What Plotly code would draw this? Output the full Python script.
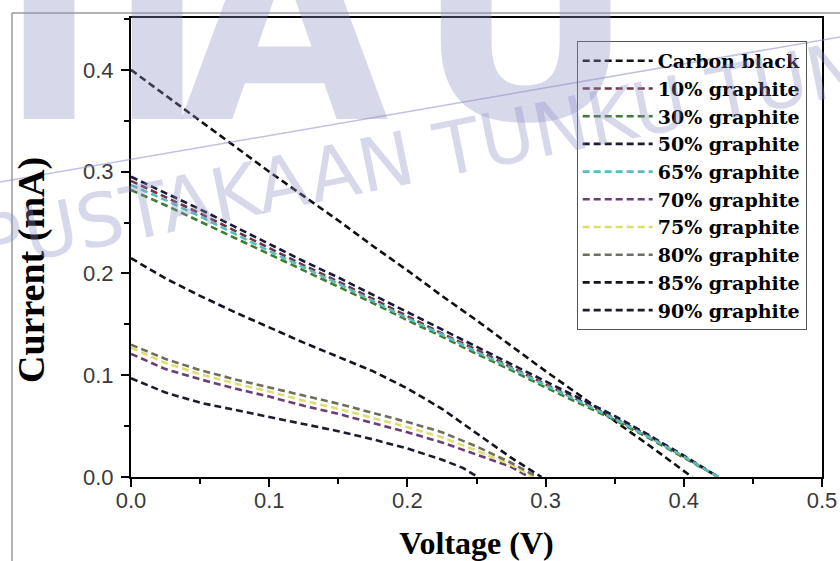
import plotly.graph_objects as go

# ---------------- data ----------------
names = ["Carbon black", "10% graphite", "30% graphite", "50% graphite", "65% graphite",
         "70% graphite", "75% graphite", "80% graphite", "85% graphite", "90% graphite"]

v_cb = [0, 0.025, 0.05, 0.075, 0.1, 0.125, 0.15, 0.175, 0.2, 0.225, 0.25, 0.275, 0.3, 0.325, 0.35, 0.375, 0.395, 0.406]
i_cb = [0.400, 0.375, 0.350, 0.325, 0.300, 0.276, 0.252, 0.227, 0.203, 0.178, 0.154, 0.129, 0.104, 0.080, 0.055, 0.031, 0.011, 0.0]

v_cl = [0, 0.025, 0.05, 0.075, 0.1, 0.125, 0.15, 0.175, 0.2, 0.225, 0.25, 0.275, 0.3, 0.325, 0.35, 0.375, 0.4, 0.425]
i_10 = [0.291, 0.275, 0.259, 0.242, 0.225, 0.208, 0.192, 0.175, 0.158, 0.141, 0.125, 0.108, 0.091, 0.075, 0.058, 0.040, 0.020, 0.0]
i_30 = [0.282, 0.267, 0.251, 0.235, 0.219, 0.203, 0.187, 0.171, 0.154, 0.138, 0.121, 0.105, 0.088, 0.072, 0.056, 0.038, 0.019, 0.0]
i_50 = [0.295, 0.279, 0.263, 0.246, 0.229, 0.212, 0.196, 0.179, 0.162, 0.145, 0.128, 0.111, 0.094, 0.077, 0.060, 0.041, 0.021, 0.0]
i_65 = [0.287, 0.272, 0.256, 0.239, 0.222, 0.206, 0.190, 0.173, 0.156, 0.140, 0.123, 0.107, 0.090, 0.074, 0.057, 0.039, 0.020, 0.0]

v_70 = [0, 0.025, 0.05, 0.075, 0.1, 0.125, 0.15, 0.175, 0.2, 0.225, 0.25, 0.275, 0.288]
i_70 = [0.121, 0.106, 0.096, 0.087, 0.079, 0.070, 0.062, 0.053, 0.044, 0.034, 0.022, 0.010, 0.0]

v_75 = [0, 0.025, 0.05, 0.075, 0.1, 0.125, 0.15, 0.175, 0.2, 0.225, 0.25, 0.275, 0.291]
i_75 = [0.127, 0.112, 0.101, 0.092, 0.084, 0.075, 0.067, 0.058, 0.049, 0.039, 0.026, 0.012, 0.0]

v_80 = [0, 0.025, 0.05, 0.075, 0.1, 0.125, 0.15, 0.175, 0.2, 0.225, 0.25, 0.275, 0.294]
i_80 = [0.130, 0.116, 0.105, 0.096, 0.088, 0.080, 0.072, 0.063, 0.054, 0.044, 0.030, 0.014, 0.0]

v_85 = [0, 0.025, 0.05, 0.075, 0.1, 0.125, 0.15, 0.175, 0.2, 0.225, 0.25, 0.275, 0.297]
i_85 = [0.215, 0.195, 0.178, 0.162, 0.147, 0.132, 0.118, 0.104, 0.087, 0.067, 0.043, 0.019, 0.0]

v_90 = [0, 0.025, 0.05, 0.075, 0.1, 0.125, 0.15, 0.175, 0.2, 0.225, 0.24, 0.251]
i_90 = [0.097, 0.083, 0.073, 0.066, 0.059, 0.052, 0.045, 0.037, 0.028, 0.017, 0.009, 0.0]

x_ticks = [0.0, 0.1, 0.2, 0.3, 0.4, 0.5]
y_ticks = [0.0, 0.1, 0.2, 0.3, 0.4]

colors = ["#111111", "#6e3444", "#3f7d32", "#1a1a3c", "#5cbcbc",
          "#6a3c78", "#dede70", "#6e6e5e", "#141420", "#1c1c2c"]

xs = [v_cb, v_cl, v_cl, v_cl, v_cl, v_70, v_75, v_80, v_85, v_90]
ys = [i_cb, i_10, i_30, i_50, i_65, i_70, i_75, i_80, i_85, i_90]

# ---------------- figure ----------------
fig = go.Figure()
for n, x, y, c in zip(names, xs, ys, colors):
    fig.add_trace(go.Scatter(x=x, y=y, mode="lines", name=n,
                             line=dict(color=c, width=2.6, dash="7px,4px")))

tickfont = dict(family="Liberation Sans", size=22, color="#3a3a3a")
axis_common = dict(showline=True, linecolor="black", linewidth=2, mirror=True,
                   showgrid=False, zeroline=False, ticks="outside", ticklen=8,
                   tickwidth=2, tickcolor="black", tickfont=tickfont, automargin=False,
                   tickformat=".1f")

fig.update_layout(
    width=840, height=561,
    margin=dict(l=131, r=18, t=18, b=84),
    paper_bgcolor="white", plot_bgcolor="white",
    xaxis=dict(range=[0, 0.5], tickvals=x_ticks, ticklabelstandoff=-5,
               minor=dict(dtick=0.05, tick0=0, ticks="outside", ticklen=5, tickwidth=1.5, tickcolor="black"),
               title=dict(text="Voltage (V)", standoff=22,
                          font=dict(family="Liberation Serif", size=32, color="black", weight="bold")),
               **axis_common),
    yaxis=dict(range=[0, 0.451], tickvals=y_ticks, ticklabelstandoff=3,
               minor=dict(dtick=0.05, tick0=0, ticks="outside", ticklen=5, tickwidth=1.5, tickcolor="black"),
               **axis_common),
    legend=dict(x=0.645, y=0.95, xanchor="left", yanchor="top",
                font=dict(family="DejaVu Serif", size=19, color="black", weight="bold"),
                bgcolor="rgba(0,0,0,0)", bordercolor="#555555", borderwidth=1,
                itemwidth=70, tracegroupgap=0),
)

# y-axis title (placed like the reference, slightly below the plot centre)
fig.add_annotation(text="Current (mA)", xref="paper", yref="paper",
                   x=(31 - 131) / 691, y=(477 - 270) / 459, xanchor="center", yanchor="middle",
                   textangle=-90, showarrow=False,
                   font=dict(family="Liberation Serif", size=38, color="black", weight="bold"))

# outer figure frame (left and top edges visible in the reference)
frame = dict(color="#9a9a9a", width=1.5)
fig.add_shape(type="line", xref="paper", yref="paper", x0=-0.1722, x1=-0.1722, y0=-0.2, y1=1.0109, line=frame)
fig.add_shape(type="line", xref="paper", yref="paper", x0=-0.1722, x1=1.03, y0=1.0109, y1=1.0109, line=frame)

# ---------------- watermark ----------------
wm = "rgba(140,140,195,0.34)"
fig.add_shape(type="line", xref="paper", yref="paper", x0=-0.1896, y0=0.6427, x1=1.026, y1=0.9586,
              line=dict(color="rgba(140,140,200,0.55)", width=1.5))
fig.add_annotation(text="PUSTAKAAN TUNKU TUN", xref="paper", yref="paper",
                   x=(420 - 131) / 691, y=(477 - 155) / 459,
                   xanchor="center", yanchor="middle", textangle=-11.5, showarrow=False,
                   font=dict(family="DejaVu Sans", size=74, color=wm))
big = [("T", 50), ("T", 158), ("A", 285), ("U", 525)]
for ch, px in big:
    fig.add_annotation(text=ch, xref="paper", yref="paper", x=(px - 131) / 691, y=(477 - 25) / 459,
                       xanchor="center", yanchor="middle", showarrow=False,
                       font=dict(family="DejaVu Sans", size=270, color=wm, weight="bold"))

fig.write_html("out.html")
